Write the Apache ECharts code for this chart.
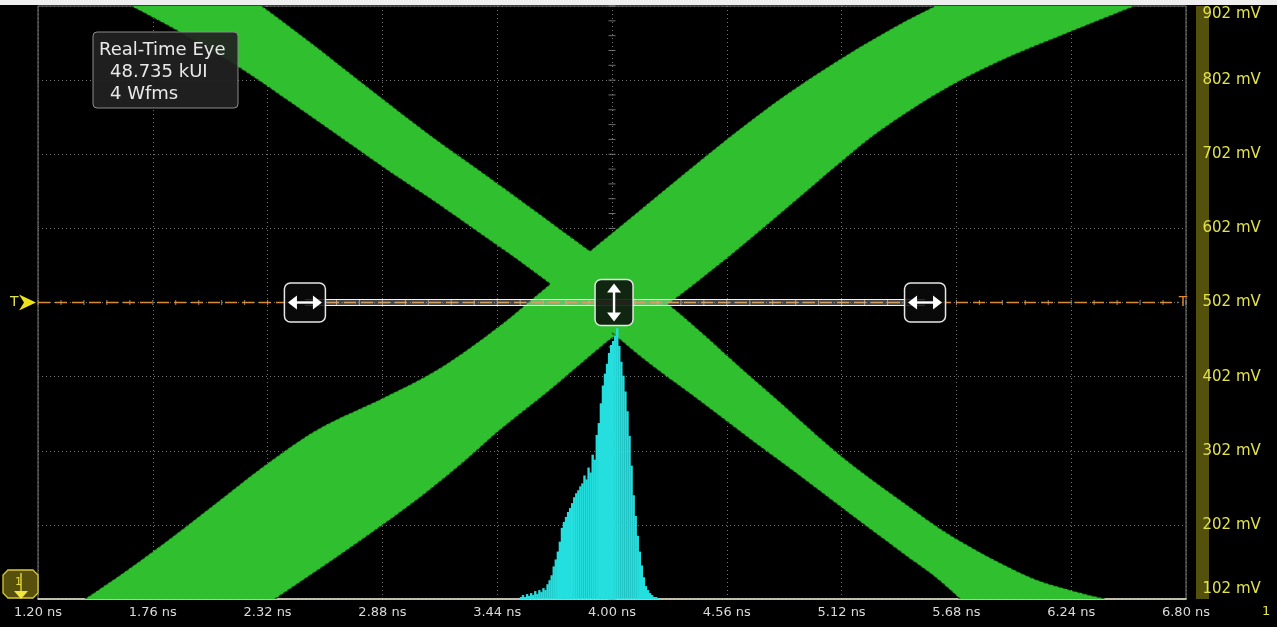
<!DOCTYPE html>
<html>
<head>
<meta charset="utf-8">
<script src="https://cdn.jsdelivr.net/npm/echarts@6/dist/echarts.min.js"></script>
<style>
  html, body { margin: 0; padding: 0; background: #000; }
  #scope { width: 1277px; height: 627px; }
</style>
</head>
<body>
<div id="scope"></div>
<script>
// Horizontal (time, ns) and vertical (voltage, mV) graticule values
const timeTicks = [1.20, 1.76, 2.32, 2.88, 3.44, 4.00, 4.56, 5.12, 5.68, 6.24, 6.80];
const voltTicks = [102, 202, 302, 402, 502, 602, 702, 802, 902];

// Falling transition envelope: [time ns, level mV], traced top to bottom
const fallLeft = [
  [1.654, 902], [1.917, 862.9], [2.185, 818.4], [2.429, 772.5], [2.673, 725.3],
  [2.917, 678.1], [3.137, 637.6], [3.332, 599.8], [3.527, 562.0], [3.698, 527.0],
  [3.854, 493.2], [4.000, 460.9], [4.185, 419.0], [4.429, 369.1], [4.673, 317.9],
  [4.917, 267.9], [5.161, 216.7], [5.429, 161.4], [5.576, 131.7], [5.698, 102]
];
const fallRight = [
  [2.293, 902], [2.527, 853.4], [2.795, 795.4], [3.112, 728.0], [3.405, 670.0],
  [3.673, 616.0], [3.893, 571.5], [4.088, 535.1], [4.273, 500.0], [4.429, 463.6],
  [4.624, 415.0], [4.819, 367.8], [5.112, 296.3], [5.405, 235.6], [5.673, 184.3],
  [6.015, 134.4], [6.234, 114.2], [6.410, 102]
];

// Rising transition envelope: [time ns, level mV], traced bottom to top
const riseLeft = [
  [1.429, 102], [1.649, 143.8], [1.868, 188.4], [2.088, 235.6], [2.322, 285.5],
  [2.576, 332.7], [2.883, 373.2], [3.161, 413.6], [3.444, 468.9], [3.698, 527.0],
  [3.893, 571.5], [4.137, 626.8], [4.380, 682.1], [4.624, 736.1], [4.868, 786.0],
  [5.161, 838.6], [5.405, 877.7], [5.576, 902]
];
const riseRight = [
  [2.356, 102], [2.673, 161.4], [3.015, 228.8], [3.259, 282.8], [3.454, 330.0],
  [3.698, 384.0], [3.893, 429.8], [4.000, 454.1], [4.137, 481.1], [4.273, 500.0],
  [4.527, 554.0], [4.722, 598.5], [4.917, 644.3], [5.112, 690.2], [5.307, 733.4],
  [5.600, 786.0], [5.893, 827.8], [6.210, 864.2], [6.551, 902]
];

// Edge stretches that face the open eye (index ranges into the arrays above)
const fallLeftOpen = [[0, 9], [11, 19]];
const fallRightOpen = [[0, 6], [8, 17]];
const riseLeftOpen = [[0, 9], [10, 17]];
const riseRightOpen = [[0, 7], [9, 18]];

// Crossing-time histogram at the trigger level
const histStart = 3.55;   // ns, first bin
const histBin = 0.01;     // ns per bin
const histHits = [
  2, 4, 2, 5, 3, 6, 4, 8, 5, 9,
  7, 11, 9, 15, 19, 24, 33, 40, 48, 58,
  72, 78, 83, 88, 92, 97, 103, 107, 110, 114,
  117, 125, 121, 133, 128, 146, 141, 166, 178, 198,
  216, 228, 238, 249, 257, 261, 266, 274, 256, 240,
  226, 210, 190, 165, 135, 105, 84, 64, 48, 34,
  22, 13, 9, 6, 4, 2, 2, 1
];

const triggerLevel = 502;                  // mV
const cursorTimes = [2.502, 4.010, 5.527]; // ns: left, centre, right handles
const infoLines = ['Real-Time Eye', '48.735 kUI', '4 Wfms'];

const GREEN = '#2fbf2f';
const CYAN = '#25dfdf';
const YELLOW = '#e2e24c';
const FONT = '"DejaVu Sans", Verdana, sans-serif';
const STEPS = 8;

// minor graticule ticks along the centre cross
const centreMinorV = [];
for (let k = 0; k <= 40; k++) centreMinorV.push([4.00, 102 + k * 20]);
const centreMinorT = [];
for (let k = 0; k <= 50; k++) centreMinorT.push([1.2 + k * 0.112, triggerLevel]);

// Catmull-Rom curve through pixel points, keeping the end points fixed
function smoothEdge(pts, steps) {
  const out = [];
  const n = pts.length;
  for (let i = 0; i < n - 1; i++) {
    const p0 = pts[Math.max(i - 1, 0)], p1 = pts[i], p2 = pts[i + 1], p3 = pts[Math.min(i + 2, n - 1)];
    for (let s = 0; s < steps; s++) {
      const t = s / steps, t2 = t * t, t3 = t2 * t;
      out.push([0, 1].map(function (d) {
        return 0.5 * ((2 * p1[d]) + (-p0[d] + p2[d]) * t + (2 * p0[d] - 5 * p1[d] + 4 * p2[d] - p3[d]) * t2 +
          (-p0[d] + 3 * p1[d] - 3 * p2[d] + p3[d]) * t3);
      }));
    }
  }
  out.push(pts[n - 1]);
  return out;
}

function edgePixels(api, edge) {
  return smoothEdge(edge.map(function (p) { return api.coord(p); }), STEPS);
}

function envelope(edgeA, edgeB, z) {
  return {
    type: 'custom', coordinateSystem: 'cartesian2d', clip: true, silent: true, z: z,
    data: [[4, triggerLevel]],
    encode: { x: 0, y: 1 },
    renderItem: function (params, api) {
      const a = edgePixels(api, edgeA);
      const b = edgePixels(api, edgeB).reverse();
      return { type: 'polygon', shape: { points: a.concat(b) }, style: { fill: GREEN } };
    }
  };
}

// speckled outline along the outer stretches of every edge
function rims(edges, z) {
  return {
    type: 'custom', coordinateSystem: 'cartesian2d', clip: true, silent: true, z: z,
    data: [[4, triggerLevel]],
    encode: { x: 0, y: 1 },
    renderItem: function (params, api) {
      const kids = [];
      edges.forEach(function (e) {
        const px = edgePixels(api, e[0]);
        e[1].forEach(function (r) {
          kids.push({
            type: 'polyline', shape: { points: px.slice(r[0] * STEPS, r[1] * STEPS + 1) },
            style: { stroke: 'rgba(0,30,0,0.55)', lineWidth: 1.6, lineDash: [3, 2], fill: null }
          });
        });
      });
      return { type: 'group', children: kids };
    }
  };
}

const chart = echarts.init(document.getElementById('scope'), null, { renderer: 'canvas' });

chart.setOption({
  animation: false,
  backgroundColor: '#000',
  grid: { left: 38, top: 6, right: 91, bottom: 28, show: true, borderColor: '#7c7c7c', borderWidth: 1 },
  xAxis: {
    type: 'value', min: 1.2, max: 6.8,
    axisLine: { show: true, lineStyle: { color: '#ece6cf', width: 1.5 } },
    axisTick: { show: false, customValues: timeTicks },
    splitLine: { show: true, lineStyle: { color: '#747474', type: [1, 3], width: 1 } },
    axisLabel: {
      customValues: timeTicks, margin: 7, color: '#dadada', fontSize: 13, fontFamily: FONT,
      hideOverlap: false, showMinLabel: true, showMaxLabel: true,
      formatter: function (v) { return v.toFixed(2) + ' ns'; }
    }
  },
  yAxis: [{
    type: 'value', min: 102, max: 902, position: 'right', offset: 16.5,
    axisLine: { show: true, lineStyle: { color: '#54510c', width: 13, cap: 'butt' } },
    axisTick: { show: false, customValues: voltTicks },
    splitLine: { show: true, lineStyle: { color: '#747474', type: [1, 3], width: 1 } },
    axisLabel: {
      customValues: voltTicks, margin: 0, color: YELLOW, fontSize: 15, fontFamily: FONT, align: 'left',
      formatter: function (v) {
        const s = v + ' mV';
        return v === 902 ? '{top|' + s + '}' : v === 102 ? '{bot|' + s + '}' : s;
      },
      rich: {
        top: { padding: [16, 0, 0, 0], color: YELLOW, fontSize: 15, fontFamily: FONT },
        bot: { padding: [0, 0, 20, 0], color: YELLOW, fontSize: 15, fontFamily: FONT }
      }
    }
  }, {
    type: 'value', min: 0, max: 600, show: false
  }],
  series: [
    {
      type: 'scatter', data: centreMinorV, symbol: 'rect', symbolSize: [7, 1], silent: true, z: 1,
      itemStyle: { color: '#8c8c8c' }
    },
    envelope(fallLeft, fallRight, 2),
    envelope(riseLeft, riseRight, 2),
    rims([[fallLeft, fallLeftOpen], [fallRight, fallRightOpen], [riseLeft, riseLeftOpen], [riseRight, riseRightOpen]], 2),
    {
      type: 'custom', coordinateSystem: 'cartesian2d', yAxisIndex: 1, clip: true, silent: true, z: 3,
      data: histHits.map(function (h, i) { return [histStart + i * histBin, h]; }),
      encode: { x: 0, y: 1 },
      renderItem: function (params, api) {
        const t = api.value(0), h = api.value(1);
        const p0 = api.coord([t, 0]);
        const p1 = api.coord([t + histBin, h]);
        return { type: 'rect', shape: { x: p0[0], y: p1[1], width: p1[0] - p0[0] + 0.3, height: p0[1] - p1[1] },
                 style: { fill: CYAN } };
      }
    },
    {
      type: 'line', data: [[1.2, triggerLevel], [6.76, triggerLevel]], symbol: 'none', silent: true, z: 4,
      lineStyle: { color: '#db8a2e', width: 1.3, type: [12, 5] },
      endLabel: { show: true, formatter: 'T', color: '#e08a2a', fontSize: 14, fontFamily: FONT, distance: 1 }
    },
    {
      type: 'scatter', data: centreMinorT, symbol: 'rect', symbolSize: [1, 5], silent: true, z: 4,
      itemStyle: { color: '#c9a781' }
    },
    {
      // bar between the outer handles
      type: 'custom', coordinateSystem: 'cartesian2d', silent: true, z: 5,
      data: [[cursorTimes[0], triggerLevel, cursorTimes[2]]],
      encode: { x: 0, y: 1 },
      renderItem: function (params, api) {
        const a = api.coord([api.value(0), api.value(1)]);
        const b = api.coord([api.value(2), api.value(1)]);
        return {
          type: 'group', children: [
            { type: 'rect', shape: { x: a[0], y: a[1] - 3, width: b[0] - a[0], height: 6 }, style: { fill: 'rgba(200,200,200,0.35)' } },
            { type: 'line', shape: { x1: a[0], y1: a[1] - 3, x2: b[0], y2: a[1] - 3 }, style: { stroke: '#f2f2f2', lineWidth: 1.2 } },
            { type: 'line', shape: { x1: a[0], y1: a[1] + 3, x2: b[0], y2: a[1] + 3 }, style: { stroke: '#f2f2f2', lineWidth: 1.2 } }
          ]
        };
      }
    },
    {
      // handles: 0 = horizontal drag, 1 = vertical drag
      type: 'custom', coordinateSystem: 'cartesian2d', silent: true, z: 6,
      data: [[cursorTimes[0], triggerLevel, 0], [cursorTimes[1], triggerLevel, 1], [cursorTimes[2], triggerLevel, 0]],
      encode: { x: 0, y: 1 },
      renderItem: function (params, api) {
        const c = api.coord([api.value(0), api.value(1)]);
        const vertical = api.value(2) === 1;
        const w = vertical ? 38 : 41, h = vertical ? 46 : 39;
        const x = c[0], y = c[1];
        const kids = [{
          type: 'rect', shape: { x: x - w / 2, y: y - h / 2, width: w, height: h, r: 6 },
          style: { fill: 'rgba(10,10,10,0.85)', stroke: '#e6e6e6', lineWidth: 1.5 }
        }];
        if (vertical) {
          kids.push({ type: 'rect', shape: { x: x - 1.2, y: y - 12, width: 2.4, height: 24 }, style: { fill: '#fff' } });
          kids.push({ type: 'polygon', shape: { points: [[x, y - 19], [x - 7, y - 10], [x + 7, y - 10]] }, style: { fill: '#fff' } });
          kids.push({ type: 'polygon', shape: { points: [[x, y + 19], [x - 7, y + 10], [x + 7, y + 10]] }, style: { fill: '#fff' } });
        } else {
          kids.push({ type: 'rect', shape: { x: x - 11, y: y - 1.2, width: 22, height: 2.4 }, style: { fill: '#fff' } });
          kids.push({ type: 'polygon', shape: { points: [[x - 17, y], [x - 8, y - 7], [x - 8, y + 7]] }, style: { fill: '#fff' } });
          kids.push({ type: 'polygon', shape: { points: [[x + 17, y], [x + 8, y - 7], [x + 8, y + 7]] }, style: { fill: '#fff' } });
        }
        return { type: 'group', children: kids };
      }
    }
  ]
});

// trigger marker on the left edge, aligned with the trigger level
const trigY = chart.convertToPixel({ yAxisIndex: 0 }, triggerLevel);

chart.setOption({
  graphic: [
    { type: 'rect', x: 0, y: 0, z: 100, shape: { width: 1277, height: 5 }, style: { fill: '#eeeeee' }, silent: true },
    {
      type: 'group', x: 93, y: 32, z: 100, silent: true, children: [
        { type: 'rect', z: 100, shape: { x: 0, y: 0, width: 145, height: 76, r: 4 }, style: { fill: 'rgba(34,34,34,0.92)', stroke: '#8c8c8c', lineWidth: 1 } },
        { type: 'text', z: 101, x: 6, y: 18, style: { text: infoLines[0], fill: '#e8e8e8', font: '18px ' + FONT, textVerticalAlign: 'middle' } },
        { type: 'text', z: 101, x: 17, y: 40, style: { text: infoLines[1], fill: '#e8e8e8', font: '18px ' + FONT, textVerticalAlign: 'middle' } },
        { type: 'text', z: 101, x: 17, y: 62, style: { text: infoLines[2], fill: '#e8e8e8', font: '18px ' + FONT, textVerticalAlign: 'middle' } }
      ]
    },
    {
      type: 'group', x: 0, y: 0, z: 100, silent: true, children: [
        { type: 'text', z: 100, x: 10, y: trigY, style: { text: 'T', fill: YELLOW, font: '14px ' + FONT, textVerticalAlign: 'middle' } },
        { type: 'polygon', z: 100, shape: { points: [[19, trigY - 8], [36, trigY], [19, trigY + 8], [24, trigY]] }, style: { fill: '#ece21a' } }
      ]
    },
    {
      // channel 1 reference badge
      type: 'group', x: 0, y: 0, z: 100, silent: true, children: [
        { type: 'polygon', z: 100, shape: { points: [[8, 570], [33, 570], [38, 575], [38, 593], [33, 598], [8, 598], [3, 593], [3, 575]] },
          style: { fill: '#574f0c', stroke: '#d9c932', lineWidth: 1.3 } },
        { type: 'text', z: 101, x: 15, y: 582, style: { text: '1', fill: '#e8dc3a', font: '11px ' + FONT, textVerticalAlign: 'middle' } },
        { type: 'line', z: 101, shape: { x1: 21, y1: 573, x2: 21, y2: 592 }, style: { stroke: '#f0e440', lineWidth: 1.3 } },
        { type: 'polygon', z: 101, shape: { points: [[14, 591], [28, 591], [21, 599]] }, style: { fill: '#f0e440' } }
      ]
    },
    { type: 'text', x: 1262, y: 605, z: 100, silent: true, style: { text: '1', fill: YELLOW, font: '13px ' + FONT } }
  ]
});
</script>
</body>
</html>
